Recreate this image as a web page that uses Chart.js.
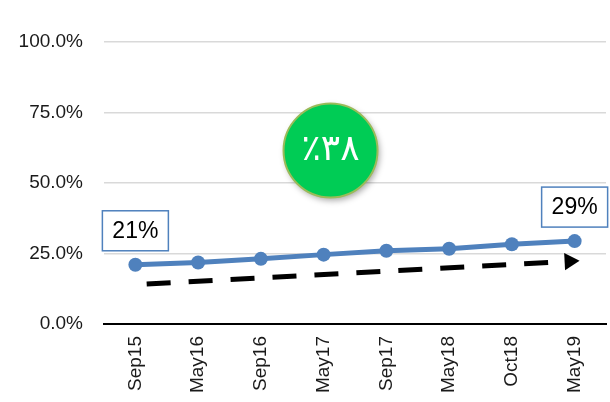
<!DOCTYPE html>
<html>
<head>
<meta charset="utf-8">
<script src="https://cdn.jsdelivr.net/npm/chart.js@4"></script>
<style>
  html, body { margin: 0; padding: 0; background: #fff; }
  #wrap { width: 610px; height: 402px; }
</style>
</head>
<body>
<div id="wrap"><canvas id="theGraph" width="610" height="402"></canvas></div>
<script>
// data
var categories = ["Sep15", "May16", "Sep16", "May17", "Sep17", "May18", "Oct18", "May19"];
var rateValues = [21.0, 21.8, 23.1, 24.6, 26.0, 26.7, 28.3, 29.4];
var labeledIdx = [0, 7];
// dashed trend arrow: start and end (x in category index units)
var trendX = [0.18, 6.92];
var trendY = [14.2, 22.2];
var yTicks = [0, 25, 50, 75, 100];
var badgeText = "٪۳۸";

var blue = 'rgb(79, 129, 189)';

// boxes with the value above first / last point
var valueBoxes = {
  id: 'valueBoxes',
  afterDatasetsDraw: function(chart) {
    var ctx = chart.ctx;
    var meta = chart.getDatasetMeta(0);
    labeledIdx.forEach(function(i) {
      var pt = meta.data[i];
      var w = 66, h = 40;
      var bx = pt.x - w / 2, by = pt.y - 14 - h;
      ctx.save();
      ctx.fillStyle = '#fff';
      ctx.fillRect(bx, by, w, h);
      ctx.strokeStyle = blue;
      ctx.lineWidth = 1.5;
      ctx.strokeRect(bx, by, w, h);
      ctx.fillStyle = '#000';
      ctx.font = '23px "Liberation Sans", Arial, sans-serif';
      ctx.textAlign = 'center';
      ctx.textBaseline = 'middle';
      ctx.fillText(Math.round(rateValues[i]) + '%', pt.x, by + h / 2 + 1);
      ctx.restore();
    });
  }
};

// green round badge
var badge = {
  id: 'badge',
  afterDraw: function(chart) {
    var ctx = chart.ctx;
    var cx = chart.scales.x.getPixelForValue(3.11);
    var cy = chart.scales.y.getPixelForValue(61.5);
    ctx.save();
    ctx.shadowColor = 'rgba(0,0,0,0.35)';
    ctx.shadowBlur = 6;
    ctx.shadowOffsetX = 2;
    ctx.shadowOffsetY = 3;
    ctx.beginPath();
    ctx.arc(cx, cy, 47, 0, Math.PI * 2);
    ctx.fillStyle = 'rgb(0, 204, 85)';
    ctx.fill();
    ctx.shadowColor = 'transparent';
    ctx.lineWidth = 2;
    ctx.strokeStyle = 'rgb(155, 187, 89)';
    ctx.stroke();
    ctx.fillStyle = '#fff';
    ctx.font = '36px "DejaVu Sans", sans-serif';
    ctx.textAlign = 'center';
    ctx.textBaseline = 'middle';
    ctx.fillText(badgeText, cx, cy);
    ctx.restore();
  }
};

var ctx = document.getElementById('theGraph').getContext('2d');
var chart = new Chart(ctx, {
  type: 'line',
  data: {
    datasets: [{
      data: rateValues.map(function(v, i) { return { x: i, y: v }; }),
      borderColor: blue,
      backgroundColor: blue,
      borderWidth: 5,
      pointRadius: 7,
      pointBorderWidth: 0,
      pointBackgroundColor: blue
    }, {
      data: trendX.map(function(x, i) { return { x: x, y: trendY[i] }; }),
      borderColor: '#000',
      backgroundColor: '#000',
      borderWidth: 5,
      borderDash: [24, 18],
      pointStyle: 'triangle',
      pointRadius: [0, 10],
      pointRotation: 87,
      pointBorderWidth: 0,
      pointBackgroundColor: '#000'
    }]
  },
  options: {
    responsive: false,
    animation: false,
    events: [],
    layout: { autoPadding: false, padding: { top: 42, right: 4, left: 0, bottom: 0 } },
    plugins: { legend: { display: false }, tooltip: { enabled: false } },
    scales: {
      x: {
        type: 'linear',
        min: -0.5,
        max: 7.5,
        afterBuildTicks: function(s) {
          s.ticks = categories.map(function(c, i) { return { value: i }; });
        },
        afterFit: function(s) { s.height = 78; s.paddingLeft = 0; s.paddingRight = 0; },
        grid: { display: false, drawTicks: false },
        border: { display: true, color: '#000', width: 2 },
        ticks: {
          autoSkip: false,
          minRotation: 90,
          maxRotation: 90,
          padding: 12,
          color: '#1a1a1a',
          font: { family: '"Liberation Sans", Arial, sans-serif', size: 19 },
          callback: function(v) { return categories[v]; }
        }
      },
      y: {
        min: 0,
        max: 100,
        afterBuildTicks: function(s) {
          s.ticks = yTicks.map(function(v) { return { value: v }; });
        },
        afterFit: function(s) { s.width = 104; },
        grid: { color: '#d9d9d9', lineWidth: 1.5, drawTicks: false },
        border: { display: false },
        ticks: {
          padding: 21,
          color: '#1a1a1a',
          font: { family: '"Liberation Sans", Arial, sans-serif', size: 19 },
          callback: function(v) { return v.toFixed(1) + '%'; }
        }
      }
    }
  },
  plugins: [valueBoxes, badge]
});
</script>
</body>
</html>
